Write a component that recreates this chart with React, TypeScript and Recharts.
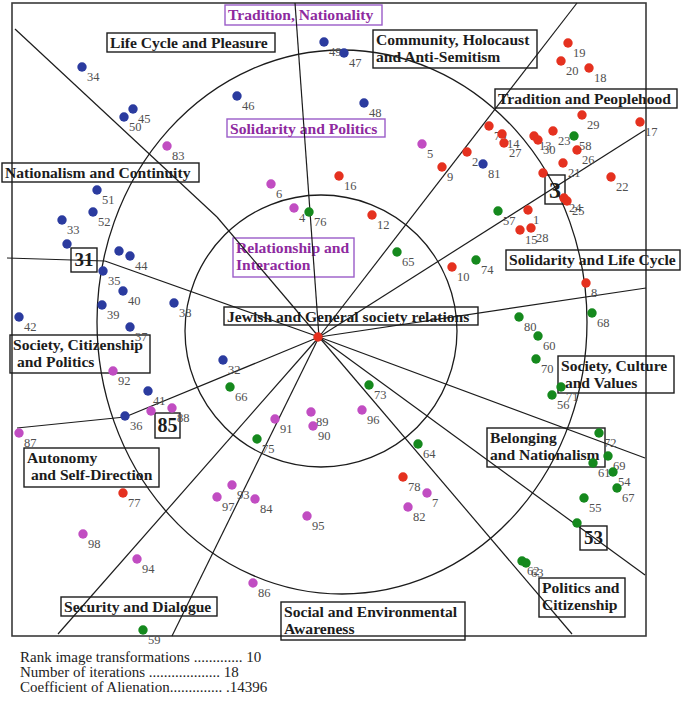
import React from 'react';
import { ScatterChart, Scatter, XAxis, YAxis, ReferenceLine, ReferenceDot, ReferenceArea } from 'recharts';

document.body.style.margin = '0';

// [label, x, y] in map units (the SSA plane, 1 unit = 1px of the chart)
type Pt = [string, number, number];

const bluePoints: Pt[] = [
  ['34', 82, 67], ['45', 133, 109], ['50', 124, 117], ['51', 97, 190], ['52', 93, 212],
  ['33', 62, 220], ['', 67, 244], ['', 119, 251], ['44', 130, 256], ['35', 103, 271],
  ['40', 123, 291], ['39', 102, 305], ['38', 174, 303], ['42', 19, 317], ['37', 130, 327],
  ['41', 148, 391], ['36', 125, 416], ['32', 223, 360], ['49', 324, 42], ['47', 344, 53],
  ['46', 237, 96], ['48', 364, 103], ['81', 483, 164],
];

const magentaPoints: Pt[] = [
  ['83', 167, 146], ['6', 271, 184], ['4', 294, 208], ['5', 422, 144], ['92', 113, 371],
  ['', 151, 411], ['88', 172, 408], ['87', 19, 433], ['98', 83, 534], ['94', 137, 559],
  ['97', 217, 497], ['93', 232, 485], ['84', 255, 499], ['95', 307, 516], ['86', 253, 583],
  ['91', 275, 419], ['89', 311, 412], ['90', 313, 426], ['96', 362, 410], ['7', 427, 493],
  ['82', 408, 507],
];

const redPoints: Pt[] = [
  ['16', 339, 176], ['12', 372, 215], ['9', 442, 167], ['2', 467, 152], ['79', 489, 126],
  ['14', 502, 134], ['27', 504, 143], ['13', 534, 136], ['30', 538, 140], ['23', 553, 131],
  ['26', 577, 150], ['21', 563, 163], ['', 543, 173], ['24', 564, 198], ['25', 567, 201],
  ['1', 528, 210], ['15', 520, 230], ['28', 531, 228], ['22', 611, 177], ['19', 568, 43],
  ['20', 561, 61], ['18', 589, 68], ['29', 582, 115], ['17', 640, 122], ['10', 452, 267],
  ['8', 586, 283], ['77', 123, 493], ['78', 403, 477], ['', 318, 337],
];

const greenPoints: Pt[] = [
  ['76', 309, 212], ['65', 397, 252], ['74', 476, 260], ['57', 498, 211], ['58', 574, 136],
  ['68', 592, 313], ['80', 519, 317], ['60', 538, 336], ['70', 536, 359], ['71', 561, 387],
  ['56', 552, 395], ['66', 230, 387], ['73', 369, 385], ['75', 257, 439], ['64', 418, 444],
  ['72', 599, 433], ['69', 608, 456], ['61', 593, 463], ['54', 613, 472], ['67', 617, 488],
  ['55', 584, 498], ['', 577, 523], ['62', 522, 561], ['63', 526, 563], ['59', 143, 630],
];

// facet partition lines (polylines from the edge of the map to the core)
const partitions: [number, number][][] = [
  [[295, 3], [319, 337]],
  [[15, 29], [217, 217], [319, 337]],
  [[7, 258], [105, 261], [319, 337]],
  [[17, 428], [125, 417], [319, 337]],
  [[58, 634], [319, 337]],
  [[172, 636], [319, 337]],
  [[572, 634], [319, 337]],
  [[645, 575], [319, 337]],
  [[645, 458], [319, 337]],
  [[646, 288], [319, 337]],
  [[645, 130], [319, 337]],
  [[577, 3], [319, 337]],
];

const outerRing = { cx: 342, cy: 322, rx: 245, ry: 272 };
const innerRing = { cx: 321, cy: 331, rx: 136, ry: 136 };

// region names: [lines, x1, y1, x2, y2, purple?]
type Region = [string[], number, number, number, number, boolean];
const regions: Region[] = [
  [['Tradition, Nationality'], 225, 5, 382, 25, true],
  [['Life Cycle and Pleasure'], 107, 33, 275, 52, false],
  [['Community, Holocaust', 'and Anti-Semitism'], 373, 30, 537, 68, false],
  [['Tradition and Peoplehood'], 495, 89, 677, 108, false],
  [['Solidarity and Politics'], 227, 119, 385, 137, true],
  [['Nationalism and Continuity'], 2, 163, 199, 182, false],
  [['Relationship and', 'Interaction'], 233, 238, 354, 277, true],
  [['Solidarity and Life Cycle'], 506, 250, 680, 270, false],
  [['Jewish and General society relations'], 224, 307, 478, 325, false],
  [['Society, Citizenship', ' and Politics'], 10, 335, 150, 373, false],
  [['Society, Culture', ' and Values'], 558, 356, 674, 393, false],
  [['Autonomy', ' and Self-Direction'], 24, 448, 159, 487, false],
  [['Belonging', 'and Nationalism'], 487, 428, 605, 467, false],
  [['Politics and', 'Citizenship'], 539, 578, 625, 617, false],
  [['Security and Dialogue'], 61, 597, 217, 616, false],
  [['Social and Environmental', 'Awareness'], 281, 602, 465, 640, false],
];

// boxed point numbers: [text, x1, y1, x2, y2, fontSize]
const numberBoxes: [string, number, number, number, number, number][] = [
  ['3', 545, 175, 565, 204, 24],
  ['31', 71, 248, 97, 272, 19],
  ['85', 155, 413, 180, 438, 20],
  ['53', 580, 526, 607, 550, 19],
];

const serif = '"Liberation Serif", "Times New Roman", serif';
const ink = '#1c1c1c';
const purpleText = '#8e2a9f';
const purpleLine = '#9a5cc8';

const groups = [
  { key: 'blue', color: '#2b3b9f', points: bluePoints },
  { key: 'magenta', color: '#c14dc2', points: magentaPoints },
  { key: 'red', color: '#e5311f', points: redPoints },
  { key: 'green', color: '#15891d', points: greenPoints },
];

const dotShape = (color: string) => (p: any) => (
  <g>
    <circle cx={p.cx} cy={p.cy} r={4.7} fill={color} />
    {p.payload.label ? (
      <text x={p.cx + 5} y={p.cy + 14} fontSize={12.5} fill="#505050" stroke="none" fontFamily={serif}>
        {p.payload.label}
      </text>
    ) : null}
  </g>
);

const regionShape = (lines: string[], purple: boolean) => (p: any) => (
  <g>
    <rect x={p.x} y={p.y} width={p.width} height={p.height} fill="none"
      stroke={purple ? purpleLine : ink} strokeWidth={1.4} />
    {lines.map((t, i) => (
      <text key={i} x={p.x + 3} y={p.y + 15 + i * 17} fontSize={15.6} fontWeight="bold"
        fontFamily={serif} fill={purple ? purpleText : ink} style={{ whiteSpace: 'pre' }}>
        {t}
      </text>
    ))}
  </g>
);

const numberShape = (t: string, fs: number) => (p: any) => (
  <g>
    <rect x={p.x} y={p.y} width={p.width} height={p.height} fill="none" stroke={ink} strokeWidth={1.4} />
    <text x={p.x + p.width / 2} y={p.y + p.height / 2 + fs * 0.34} textAnchor="middle"
      fontSize={fs} fontWeight="bold" fontFamily={serif} fill={ink}>
      {t}
    </text>
  </g>
);

export default function App() {
  return (
    <div style={{ position: 'relative', width: 685, height: 705, background: '#fff' }}>
      <ScatterChart width={685} height={705} margin={{ top: 0, right: 0, bottom: 0, left: 0 }}>
        <XAxis type="number" dataKey="x" domain={[0, 685]} allowDataOverflow hide />
        <YAxis type="number" dataKey="y" domain={[0, 705]} allowDataOverflow reversed hide />

        <ReferenceArea x1={12} x2={646} y1={3} y2={636} ifOverflow="visible"
          shape={(p: any) => (
            <rect x={p.x} y={p.y} width={p.width} height={p.height} fill="none" stroke="#3a3a3a" strokeWidth={1.6} />
          )} />

        {[outerRing, innerRing].map((ring, i) => (
          <ReferenceDot key={'ring' + i} x={ring.cx} y={ring.cy} r={1} ifOverflow="visible"
            shape={(p: any) => (
              <ellipse cx={p.cx} cy={p.cy} rx={ring.rx} ry={ring.ry} fill="none" stroke={ink} strokeWidth={1.3} />
            )} />
        ))}

        {partitions.flatMap((pl, i) =>
          pl.slice(1).map((pt, j) => (
            <ReferenceLine key={`p${i}-${j}`} ifOverflow="visible" stroke={ink} strokeWidth={1.2}
              segment={[{ x: pl[j][0], y: pl[j][1] }, { x: pt[0], y: pt[1] }]} />
          ))
        )}

        {regions.map(([lines, x1, y1, x2, y2, purple], i) => (
          <ReferenceArea key={'r' + i} x1={x1} x2={x2} y1={y1} y2={y2} ifOverflow="visible"
            shape={regionShape(lines, purple)} />
        ))}

        {numberBoxes.map(([t, x1, y1, x2, y2, fs], i) => (
          <ReferenceArea key={'n' + i} x1={x1} x2={x2} y1={y1} y2={y2} ifOverflow="visible"
            shape={numberShape(t, fs)} />
        ))}

        {groups.map((g) => (
          <Scatter key={g.key} name={g.key} isAnimationActive={false}
            data={g.points.map(([label, x, y]) => ({ label, x, y }))}
            shape={dotShape(g.color)} />
        ))}
      </ScatterChart>

      <div style={{ position: 'absolute', left: 20, top: 650, fontFamily: serif, fontSize: 15, lineHeight: '14.8px', color: '#222', whiteSpace: 'pre' }}>
        <div>Rank image transformations ............. 10</div>
        <div>Number of iterations ................... 18</div>
        <div>Coefficient of Alienation.............. .14396</div>
      </div>
    </div>
  );
}
